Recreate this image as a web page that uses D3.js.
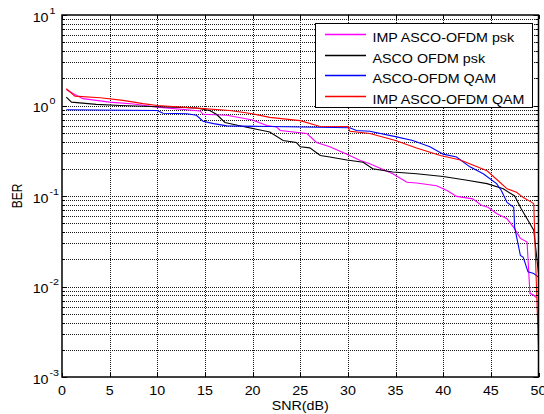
<!DOCTYPE html>
<html>
<head>
<meta charset="utf-8">
<script src="https://cdn.jsdelivr.net/npm/d3@7"></script>
<style>
  body { margin: 0; background: #fff; }
  text { font-family: Arial, "Liberation Sans", sans-serif; font-size: 12px; fill: #000; }
</style>
</head>
<body>
<script>
// series data: [SNR, BER]
const impPsk = [[0.45,1.5],[1.2,1.35],[2.2,1.19],[5,1.09],[7.5,1.04],[10,0.96],[14.5,0.87],[14.8,0.8],
  [17.3,0.78],[20,0.69],[21.5,0.6],[22.5,0.58],[22.9,0.53],[25.7,0.49],[26.7,0.39],[28.1,0.35],[29.9,0.29],
  [31.3,0.247],[32.3,0.227],[34.7,0.176],[36.2,0.142],[37.2,0.139],[39.3,0.13],[40.4,0.115],[41.4,0.099],
  [43.1,0.093],[44,0.079],[44.7,0.075],[45.6,0.064],[46.7,0.056],[47.4,0.045],[48.1,0.034],[48.8,0.031],
  [49.1,0.0084],[49.5,0.008],[49.8,0.0075]];
const ascoPsk = [[0.45,1.24],[1.0,1.09],[3.6,1.03],[6.1,1.0],[14.1,0.94],[15.5,0.88],[16.2,0.8],[17.1,0.65],
  [19,0.585],[21.8,0.51],[23.2,0.41],[24.6,0.39],[25,0.35],[26,0.34],[27.1,0.28],[28.1,0.27],[29.9,0.25],
  [31.6,0.236],[32.6,0.2],[34.7,0.184],[37.2,0.176],[40,0.164],[42.5,0.149],[44.6,0.137],[46.3,0.12],
  [47.5,0.1],[48.2,0.072],[48.8,0.056],[49.5,0.042],[50,0.014]];
const ascoQam = [[0.45,0.896],[10,0.88],[10.6,0.82],[13.1,0.81],[14.1,0.78],[14.8,0.67],[15.9,0.63],
  [17.3,0.595],[30.2,0.567],[30.9,0.53],[32.3,0.52],[35.1,0.45],[36.8,0.41],[38.6,0.35],[40,0.29],
  [41.4,0.27],[42.8,0.21],[44.2,0.176],[45.6,0.137],[46.1,0.115],[46.7,0.085],[47.4,0.075],[47.5,0.045],
  [48.1,0.022],[48.4,0.021],[48.9,0.0145],[49.5,0.0139],[50,0.0127]];
const impQam = [[0.45,1.53],[1.36,1.27],[4,1.22],[6.4,1.14],[8.5,1.05],[10,1.0],[14.5,0.93],[17.6,0.88],
  [20,0.81],[21.8,0.74],[25,0.68],[27,0.59],[30,0.585],[30.2,0.52],[32.3,0.49],[35,0.41],[37.2,0.34],
  [39.7,0.28],[41.8,0.25],[44.6,0.19],[46,0.14],[46.7,0.12],[47.7,0.11],[48.4,0.096],[49.3,0.085],
  [49.5,0.082],[49.8,0.009],[50,0.0021]];

const seriesNames = ["IMP ASCO-OFDM psk", "ASCO OFDM psk", "ASCO-OFDM QAM", "IMP ASCO-OFDM QAM"];
const seriesColors = ["#ff00ff", "#000000", "#0000ff", "#ff0000"];
const seriesData = [impPsk, ascoPsk, ascoQam, impQam];

const xTicks = [0, 5, 10, 15, 20, 25, 30, 35, 40, 45, 50];
const yDecades = [-3, -2, -1, 0, 1];

const width = 544, height = 414;
const margin = { top: 15, right: 5.5, bottom: 37, left: 62 };
const stretch = 1.19; // the figure text is a bit wide

const svg = d3.select("body").append("svg")
  .attr("width", width)
  .attr("height", height);

const x = d3.scaleLinear().domain([0, 50]).range([margin.left, width - margin.right]);
const y = d3.scaleLog().domain([1e-3, 1e1]).range([height - margin.bottom, margin.top]);

const x0 = x.range()[0], x1 = x.range()[1];
const y0 = y.range()[0], y1 = y.range()[1];

// minor + major values on the log axis
const yAll = [];
yDecades.forEach(p => {
  for (let m = 1; m < 10; m++) {
    const v = m * Math.pow(10, p);
    if (v <= 1e1 + 1e-9) yAll.push({ v, major: m === 1 });
  }
});

// grid
const grid = svg.append("g")
  .attr("stroke", "#1a1a1a")
  .attr("stroke-width", 1)
  .attr("stroke-dasharray", "1,1");

grid.selectAll("line.h")
  .data(yAll.filter(d => d.v > 1e-3 && d.v < 1e1))
  .enter().append("line")
  .attr("class", "h")
  .attr("x1", x0).attr("x2", x1)
  .attr("y1", d => Math.round(y(d.v)) + 0.5)
  .attr("y2", d => Math.round(y(d.v)) + 0.5);

grid.selectAll("line.v")
  .data(xTicks.filter(d => d > 0 && d < 50))
  .enter().append("line")
  .attr("class", "v")
  .attr("y1", y0).attr("y2", y1)
  .attr("x1", d => Math.round(x(d)) + 0.5)
  .attr("x2", d => Math.round(x(d)) + 0.5);

// lines
const line = d3.line().x(d => x(d[0])).y(d => y(d[1]));
seriesData.forEach((data, i) => {
  svg.append("path")
    .datum(data)
    .attr("fill", "none")
    .attr("stroke", seriesColors[i])
    .attr("stroke-width", 1.1)
    .attr("d", line);
});

// ticks (inward, all four sides)
const ticks = svg.append("g").attr("stroke", "#000").attr("stroke-width", 1);
yAll.forEach(d => {
  const yy = Math.round(y(d.v)) + 0.5;
  const len = d.major ? 5 : 3;
  ticks.append("line").attr("x1", x0).attr("x2", x0 + len).attr("y1", yy).attr("y2", yy);
  ticks.append("line").attr("x1", x1).attr("x2", x1 - len).attr("y1", yy).attr("y2", yy);
});
xTicks.forEach(t => {
  const xx = Math.round(x(t)) + 0.5;
  ticks.append("line").attr("x1", xx).attr("x2", xx).attr("y1", y0).attr("y2", y0 - 4);
  ticks.append("line").attr("x1", xx).attr("x2", xx).attr("y1", y1).attr("y2", y1 + 4);
});

// axes box
svg.append("rect")
  .attr("x", x0).attr("y", y1)
  .attr("width", x1 - x0).attr("height", y0 - y1)
  .attr("fill", "none")
  .attr("stroke", "#000")
  .attr("stroke-width", 1.5);

// text helper with horizontal stretch
function label(px, py, txt, anchor, size) {
  const g = svg.append("g").attr("transform", `translate(${px},${py}) scale(${stretch},1)`);
  g.append("text")
    .attr("text-anchor", anchor)
    .style("font-size", (size || 12) + "px")
    .text(txt);
  return g;
}

// x tick labels
xTicks.forEach(t => label(x(t), y0 + 18, String(t), "middle"));

// y tick labels 10^p
yDecades.forEach(p => {
  const yy = y(Math.pow(10, p));
  label(48.5, yy + 6.5, "10", "end");
  label(49.5, yy - 1.5, String(p), "start", 9);
});

// axis titles
label((x0 + x1) / 2, 410, "SNR(dB)", "middle");
svg.append("g")
  .attr("transform", `translate(22,${(y0 + y1) / 2}) rotate(-90) scale(1,${stretch})`)
  .append("text")
  .attr("text-anchor", "middle")
  .text("BER");

// legend
const legend = svg.append("g");
legend.append("rect")
  .attr("x", 315.5).attr("y", 23.5)
  .attr("width", 217).attr("height", 84)
  .attr("fill", "#fff")
  .attr("stroke", "#000")
  .attr("stroke-width", 1);

seriesNames.forEach((name, i) => {
  const ly = Math.round(34 + i * 20.5) + 0.5;
  legend.append("line")
    .attr("x1", 325).attr("x2", 366)
    .attr("y1", ly).attr("y2", ly)
    .style("stroke", seriesColors[i])
    .style("stroke-width", 1.3);
  label(372.5, ly + 7, name, "start");
});
</script>
</body>
</html>
